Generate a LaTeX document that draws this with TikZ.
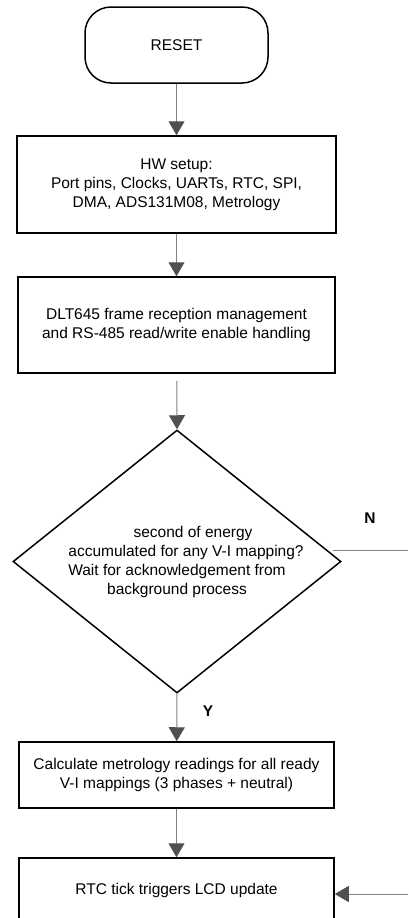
\documentclass[tikz,border=0pt]{standalone}
\usepackage{fontspec}
\setmainfont{Liberation Sans}
\usetikzlibrary{shapes.geometric,arrows.meta}
\definecolor{linegray}{HTML}{808080}
\definecolor{tipgray}{HTML}{505050}
\begin{document}
\begin{tikzpicture}[x=1pt,y=-1pt,
  txt/.style={font=\fontsize{15.5pt}{19pt}\selectfont, align=center, inner sep=0pt},
  procbox/.style={txt, draw=black, line width=1.5pt, anchor=center},
  termbox/.style={procbox, rounded corners=26pt},
  decbox/.style={shape=diamond, draw=black, line width=1.5pt, inner sep=0pt},
  flow/.style={draw=linegray, line width=1pt, -{Triangle[length=14pt,width=16pt,color=tipgray]}},
  plainflow/.style={draw=linegray, line width=1pt},
  yn/.style={font=\fontsize{15.5pt}{19pt}\selectfont\bfseries, inner sep=0pt}
]
\useasboundingbox (0,0) rectangle (408,918);
\clip (0,0) rectangle (408,918);

\node[termbox, minimum width=183pt, minimum height=76pt] (reset) at (176.5,45) {RESET};
\node[procbox, minimum width=319pt, minimum height=97pt] (hw) at (176.5,184.5)
  {HW setup:\\Port pins, Clocks, UARTs, RTC, SPI,\\DMA, ADS131M08, Metrology};
\node[procbox, minimum width=317pt, minimum height=96pt] (dlt) at (176.5,325)
  {DLT645 frame reception management\\and RS-485 read/write enable handling};
\node[decbox, minimum width=328pt, minimum height=263pt] (dec) at (177,561.5) {};
\node[txt] (dectext) at (177,561.5)
  {\hspace*{32pt}second of energy\\\hspace*{18pt}accumulated for any V-I mapping?\\Wait for acknowledgement from\\background process};
\node[procbox, minimum width=315pt, minimum height=66pt] (calc) at (176.5,775)
  {Calculate metrology readings for all ready\\V-I mappings (3 phases + neutral)};
\node[procbox, minimum width=315pt, minimum height=64pt] (rtc) at (176.5,890)
  {RTC tick triggers LCD update};

\node[yn] (ylab) at (208,711) {Y};
\node[yn] (nlab) at (370,518) {N};

\coordinate (nstart) at (333,550);
\coordinate (nend) at (408,550);
\coordinate (rin) at (408,894);

\draw[flow] (reset) -- (hw);
\draw[flow] (hw) -- (dlt);
\draw[flow, shorten <=7pt] (dlt) -- (dec.north);
\draw[flow] (dec.south) -- (calc);
\draw[flow] (calc) -- (rtc);
\draw[plainflow] (nstart) -- (nend);
\draw[flow] (rin) -- (rin -| rtc.east);
\end{tikzpicture}
\end{document}
